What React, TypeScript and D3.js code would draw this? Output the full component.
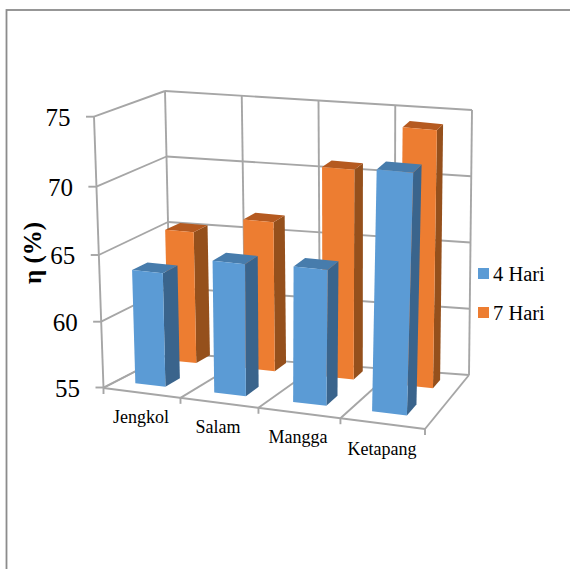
import React from "react";
import * as d3 from "d3";

const categories = ["Jengkol", "Salam", "Mangga", "Ketapang"];
const seriesNames = ["4 Hari", "7 Hari"];
const hari4 = [63.4, 64.7, 64.9, 72.55];
const hari7 = [64.9, 66.2, 70.7, 74.2];
const yTicks = [55, 60, 65, 70, 75];

type P = [number, number];
const mix = (a: P, b: P, t: number): P => [a[0] + (b[0] - a[0]) * t, a[1] + (b[1] - a[1]) * t];

// Plot box corners (FL, FR, BR, BL) for the floor and the ceiling.
const F = { fl: [103.5, 388] as P, fr: [425, 429] as P, br: [469, 375] as P, bl: [171, 353] as P };
const C = { fl: [94, 117] as P, fr: [435, 149] as P, br: [472, 110] as P, bl: [165, 91] as P };

const vScale = d3.scaleLinear().domain([55, 75]).range([0, 1]);
const plane = (q: typeof F, u: number, w: number) => mix(mix(q.fl, q.fr, u), mix(q.bl, q.br, u), w);
const proj = (u: number, w: number, value: number): P => mix(plane(F, u, w), plane(C, u, w), vScale(value));

// Foreshortening of the front edge and of the left axis.
const frontTick = d3.scaleLinear().domain([0, 0.25, 0.5, 0.75, 1]).range([0, 0.2395, 0.482, 0.737, 1]);
const axisY = d3.scaleLinear().domain(yTicks).range([387.5, 321.7, 255, 186.7, 116.7]);
const axisPt = (t: number): P => {
  const p = proj(0, 0, t);
  return [p[0], axisY(t)];
};

const indexScale = [0, categories.length - 1];
const uStart = [
  d3.scaleLinear().domain(indexScale).range([0.058, 0.806]),
  d3.scaleLinear().domain(indexScale).range([0.032, 0.813]),
];
const uWidth = d3.scaleLinear().domain(indexScale).range([0.095, 0.11]);
const depthRange: [number, number][] = [[0.2, 0.43], [0.82, 1.04]];
// Rows sit a little nearer the viewer toward the right of the floor.
const rowDepth = (u: number, w: number) => w * (1 - 0.17 * u * w);

const poly = (pts: P[]) => (d3.line()(pts) ?? "") + "Z";

const gridC = "#a6a6a6";
const palette = [
  { front: "#5b9bd5", top: "#477cac", side: "#3a648c" },
  { front: "#ed7d31", top: "#b55a20", side: "#95501c" },
];

function Bar({ s, i, v }: { s: number; i: number; v: number }) {
  const c = palette[s];
  const u0 = uStart[s](i);
  const u1 = u0 + uWidth(i);
  const [w0, w1] = depthRange[s];
  const p = (u: number, w: number, val: number) => proj(u, rowDepth(u, w), val);
  return (
    <g>
      <path d={poly([p(u1, w0, 55), p(u1, w1, 55), p(u1, w1, v), p(u1, w0, v)])} fill={c.side} />
      <path d={poly([p(u0, w0, v), p(u1, w0, v), p(u1, w1, v), p(u0, w1, v)])} fill={c.top} />
      <path d={poly([p(u0, w0, 55), p(u1, w0, 55), p(u1, w0, v), p(u0, w0, v)])} fill={c.front} />
    </g>
  );
}

const labelBaselines = [423, 432.7, 443, 455];
const labelCenters = [141, 218, 298, 382];

export default function App() {
  const serif = "'Liberation Serif', serif";
  const line = (a: P, b: P, key: string) => (
    <line key={key} x1={a[0]} y1={a[1]} x2={b[0]} y2={b[1]} stroke={gridC} strokeWidth={1.9} />
  );
  const boundaries = [0, 0.25, 0.5, 0.75, 1];
  const frontPt = (b: number) => proj(frontTick(b), 0, 55);
  return (
    <svg width={570} height={569} style={{ position: "absolute", left: 0, top: 0, background: "#fff" }}>
      <rect x={6.5} y={10} width={600} height={600} fill="#fff" stroke="#8c8c8c" strokeWidth={1.8} />
      {yTicks.map((t) => {
        const a = axisPt(t);
        return (
          <g key={t}>
            {line(a, proj(0, 1, t), `s${t}`)}
            {line(proj(0, 1, t), proj(1, 1, t), `b${t}`)}
            {line(a, [a[0] - 8, a[1]], `m${t}`)}
            <text x={a[0] - 23.5} y={a[1] + 9} textAnchor="end" fontFamily={serif} fontSize={25} fill="#000">{t}</text>
          </g>
        );
      })}
      {boundaries.map((b) => line(proj(b, 1, 55), proj(b, 1, 75), `v${b}`))}
      {line(axisPt(55), axisPt(75), "axis")}
      {boundaries.map((b) => line(frontPt(b), proj(b, 1, 55), `f${b}`))}
      {line(frontPt(0), frontPt(1), "front")}
      {boundaries.map((b) => line(frontPt(b), [frontPt(b)[0], frontPt(b)[1] + 6], `t${b}`))}
      {hari7.map((v, i) => <Bar key={`o${i}`} s={1} i={i} v={v} />)}
      {hari4.map((v, i) => <Bar key={`b${i}`} s={0} i={i} v={v} />)}
      {categories.map((cat, i) => (
        <text key={cat} x={labelCenters[i]} y={labelBaselines[i]} textAnchor="middle" fontFamily={serif} fontSize={18} fill="#000">{cat}</text>
      ))}
      <text transform="translate(41,253) rotate(-90)" textAnchor="middle" fontFamily={serif} fontSize={25} fontWeight="bold" fill="#000">η (%)</text>
      {seriesNames.map((n, i) => (
        <g key={n}>
          <rect x={478} y={268 + i * 39} width={11} height={11} fill={palette[i].front} />
          <text x={493} y={280.7 + i * 39.3} fontFamily={serif} fontSize={20.5} fill="#000">{n}</text>
        </g>
      ))}
    </svg>
  );
}
